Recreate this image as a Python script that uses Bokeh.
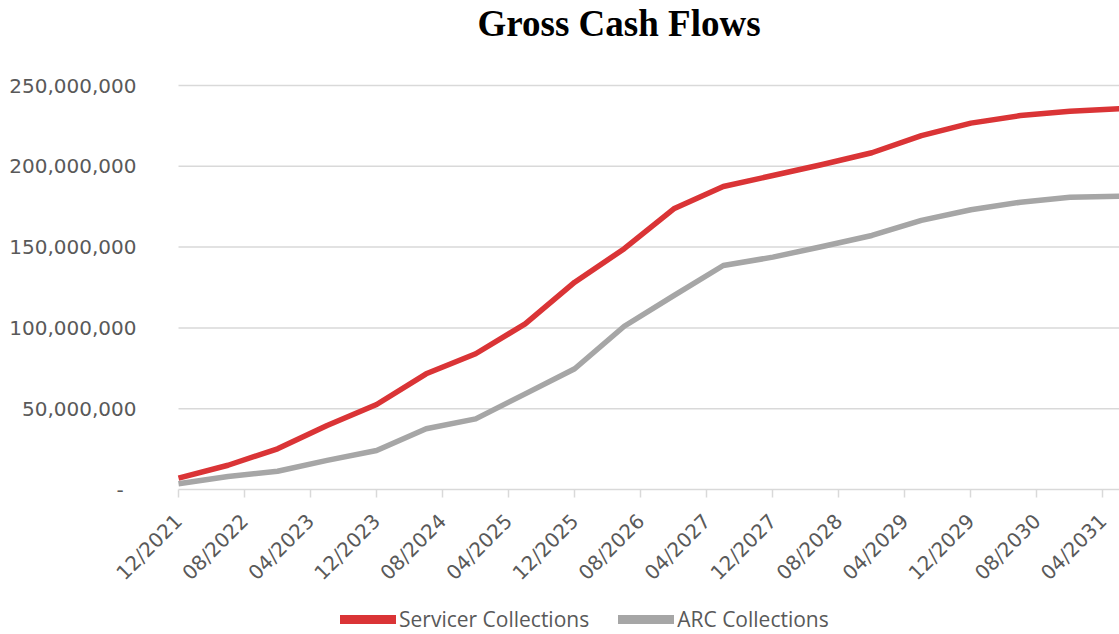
from bokeh.plotting import figure
from bokeh.models import FixedTicker, Range1d, Legend, LegendItem, NumeralTickFormatter, ColumnDataSource, Title
from bokeh.embed import file_html
from bokeh.resources import INLINE
import math

# ---- data (semiannual periods) ----
periods = ["12/2021", "06/2022", "12/2022", "06/2023", "12/2023", "06/2024", "12/2024",
           "06/2025", "12/2025", "06/2026", "12/2026", "06/2027", "12/2027", "06/2028",
           "12/2028", "06/2029", "12/2029", "06/2030", "12/2030", "06/2031"]
servicer = [7.0, 15.0, 25.2, 39.6, 52.6, 71.6, 84.0, 102.5, 128.3, 149.0, 173.7, 187.5,
            194.3, 201.1, 208.4, 219.0, 226.7, 231.4, 234.1, 235.6]
arc = [3.5, 8.0, 11.3, 18.0, 24.1, 37.6, 43.7, 59.2, 74.7, 101.0, 120.0, 138.6, 143.8,
       150.4, 157.2, 166.5, 173.1, 177.8, 180.9, 181.5]
tick_labels = ["12/2021", "08/2022", "04/2023", "12/2023", "08/2024", "04/2025", "12/2025",
               "08/2026", "04/2027", "12/2027", "08/2028", "04/2029", "12/2029", "08/2030",
               "04/2031"]
y_ticks = [0, 50, 100, 150, 200, 250]  # millions


def month_index(lbl):
    m, y = lbl.split("/")
    return (int(y) - 2021) * 12 + int(m) - 12


xs = [month_index(p) for p in periods]
src = ColumnDataSource(dict(x=xs,
                            servicer=[v * 1e6 for v in servicer],
                            arc=[v * 1e6 for v in arc]))

RED = "#DA3436"
GRAY = "#A6A6A6"
TXT = "#595959"
GRID = "#D9D9D9"

W, H = 1119, 634
FRAME_TOP = 64
# the frame covers the whole canvas below the title; the data area is placed inside it
PX_PER_M = 404 / 250.0                                  # vertical pixels per million
y_lo = -(H - 489) / PX_PER_M * 1e6
y_hi = (250 + (85 - FRAME_TOP) / PX_PER_M) * 1e6
PX_PER_MONTH = (W - 178) / (xs[-1] - xs[0])
x_lo = xs[0] - 178 / PX_PER_MONTH
x_hi = xs[-1]

p = figure(width=W, height=H, output_backend="svg", toolbar_location=None, title=None,
           x_range=Range1d(x_lo, x_hi), y_range=Range1d(y_lo, y_hi),
           min_border_left=0, min_border_right=0, min_border_top=FRAME_TOP, min_border_bottom=0)
p.outline_line_color = None
p.background_fill_color = "white"
p.border_fill_color = "white"
p.xgrid.grid_line_color = None
p.ygrid.grid_line_color = None

# horizontal grid lines across the data area
grid_vals = [v * 1e6 for v in y_ticks[1:]]
p.segment(x0=[xs[0]] * len(grid_vals), x1=[xs[-1]] * len(grid_vals), y0=grid_vals, y1=grid_vals,
          line_color=GRID, line_width=1.5)

r1 = p.line("x", "servicer", source=src, line_color=RED, line_width=5.5, line_join="round")
r2 = p.line("x", "arc", source=src, line_color=GRAY, line_width=5.5, line_join="round")

# legend sample renderers (draw nothing, only give the legend glyphs)
nan = float("nan")
l1 = p.line(x=[nan], y=[nan], line_color=RED, line_width=9, line_cap="round")
l2 = p.line(x=[nan], y=[nan], line_color=GRAY, line_width=9, line_cap="round")

# spacer between frame and title, then the title
p.add_layout(Title(text=" ", text_font_size="13px", standoff=4), "above")
title = Title(text="Gross Cash Flows", text_font="Liberation Serif", text_font_style="bold",
              text_font_size="37px", text_color="black", align="left", offset=477, standoff=0)
p.add_layout(title, "above")

# x axis, drawn at zero
xa = p.xaxis[0]
xa.fixed_location = 0
xa.bounds = (xs[0], xs[-1])
xa.ticker = FixedTicker(ticks=[month_index(t) for t in tick_labels])
xa.major_label_overrides = {month_index(t): t for t in tick_labels}
xa.major_label_orientation = math.radians(45)
xa.major_label_text_font = "DejaVu Sans"
xa.major_label_text_font_size = "20px"
xa.major_label_text_color = TXT
xa.axis_line_color = GRID
xa.axis_line_width = 1.5
xa.major_tick_line_color = GRID
xa.major_tick_line_width = 1.5
xa.major_tick_in = 0
xa.major_tick_out = 8
xa.minor_tick_line_color = None
xa.major_label_standoff = 20

# y axis, drawn at the first period
ya = p.yaxis[0]
ya.fixed_location = xs[0]
ya.ticker = FixedTicker(ticks=[v * 1e6 for v in y_ticks])
ya.formatter = NumeralTickFormatter(format="0,0")
ya.major_label_overrides = {0: "-\u2007"}
ya.major_label_text_font = "DejaVu Sans"
ya.major_label_text_font_size = "20px"
ya.major_label_text_color = TXT
ya.axis_line_color = None
ya.major_tick_line_color = None
ya.minor_tick_line_color = None
ya.major_label_standoff = 36

legend = Legend(items=[LegendItem(label="Servicer Collections", renderers=[l1]),
                       LegendItem(label="ARC Collections", renderers=[l2])],
                orientation="horizontal", location=(340, 1),
                border_line_color=None, background_fill_alpha=0,
                label_text_font="Open Sans", label_text_font_size="21px",
                label_text_color=TXT, glyph_width=56, glyph_height=24,
                label_standoff=3, spacing=29, padding=0, margin=0)
p.add_layout(legend, "center")

open("out.html", "w").write(file_html(p, INLINE))
